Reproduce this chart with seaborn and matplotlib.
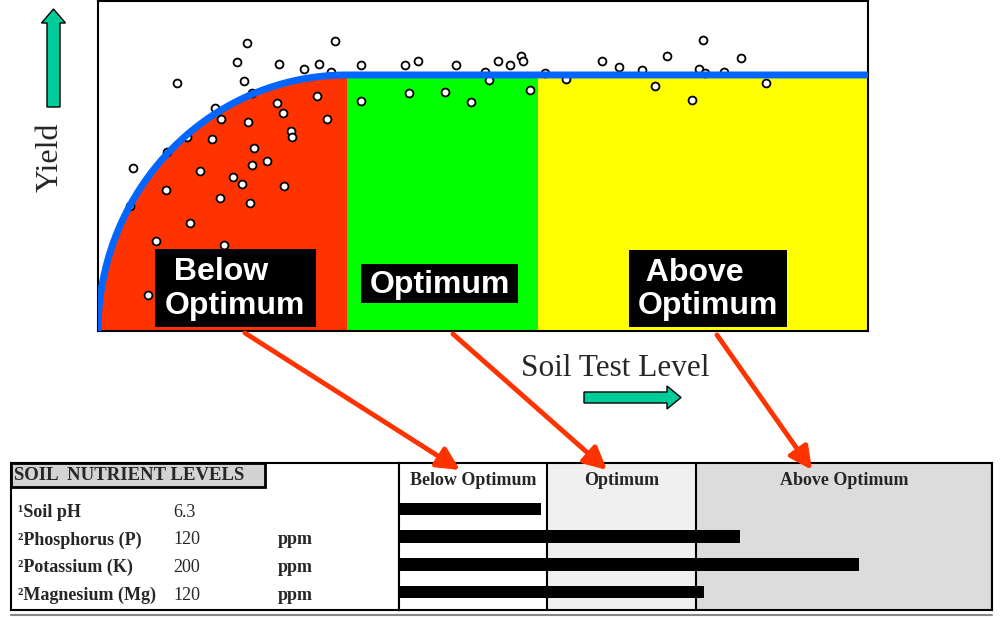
import numpy as np
import matplotlib.pyplot as plt
import matplotlib.patches as mpatches
import seaborn as sns

# Yield observations (soil test level 0-100, relative yield 0-100)
soil_test = [19.3, 30.8, 18.0, 23.5, 26.8, 28.7, 30.2, 34.2, 10.3, 19.0,
             20.0, 28.5, 23.3, 24.0, 15.2, 16.0, 19.5, 29.7, 34.2, 11.5,
             14.8, 25.0, 25.2, 9.0, 20.2, 22.0, 20.0, 4.5, 13.2, 17.5,
             18.7, 24.2, 8.8, 15.8, 19.8, 4.2, 12.0, 7.5, 16.3, 6.5,
             39.9, 41.6, 46.5, 52.0, 53.5, 54.9, 55.2, 50.2, 50.8, 58.1,
             60.8, 65.5, 67.7, 70.7, 73.9, 78.6, 78.1, 78.8, 81.3, 83.5,
             72.4, 77.1, 86.7, 40.4, 45.0, 48.5, 56.1]
yield_obs = [87.2, 88.0, 81.4, 80.9, 79.3, 81.0, 78.6, 80.7, 75.2, 75.7,
             72.2, 71.2, 69.1, 66.2, 67.5, 64.2, 63.2, 64.2, 69.6, 58.9,
             58.1, 60.5, 58.8, 54.3, 55.5, 51.5, 50.2, 49.5, 48.6, 46.8,
             44.5, 43.9, 42.8, 40.3, 38.7, 37.9, 32.6, 27.3, 26.1, 10.8,
             80.7, 81.7, 80.7, 81.7, 80.7, 83.4, 81.7, 78.4, 76.0, 78.2,
             76.5, 81.7, 80.1, 79.0, 83.4, 88.3, 79.4, 78.1, 78.4, 82.6,
             74.3, 69.9, 75.1, 72.0, 72.3, 69.5, 73.1]

# Response zones on the soil test scale
zone_labels = [' Below\nOptimum', 'Optimum', ' Above\nOptimum']
zone_edges = [0, 32.3, 57.1, 100]
zone_colors = ['#FF3300', '#00FF00', '#FFFF00']
plateau = 77.6

# Soil report table
nutrients = ['Soil pH', 'Phosphorus (P)', 'Potassium (K)', 'Magnesium (Mg)']
footnotes = ['\u00b9', '\u00b2', '\u00b2', '\u00b2']
results = ['6.3', '120', '200', '120']
units = ['', 'ppm', 'ppm', 'ppm']
bar_levels = [24, 57.5, 77.5, 51.5]
report_classes = ['Below Optimum', 'Optimum', 'Above Optimum']
report_edges = [0, 25, 50, 100]
report_fills = ['white', '#F0F0F0', '#DCDCDC']

sns.set_style('white')
plt.rcParams['font.family'] = ['Liberation Serif', 'DejaVu Serif']

fig = plt.figure(figsize=(10, 6.17), dpi=100)

# ---- response curve ----
ax = fig.add_axes([0.098, 0.4635, 0.770, 0.5348])
crit = zone_edges[1]
t = np.linspace(0, np.pi / 2, 200)
cx = crit * (1 - np.cos(t))
cy = plateau * np.sin(t)
ax.fill_between(cx, 0, cy, color=zone_colors[0], lw=0, zorder=1)
for i in (1, 2):
    ax.fill_between([zone_edges[i], zone_edges[i + 1]], 0, plateau,
                    color=zone_colors[i], lw=0, zorder=1)
sns.scatterplot(x=soil_test, y=yield_obs, ax=ax, s=32, color='white',
                edgecolor='black', linewidth=1.3, zorder=3, legend=False)
ax.plot(np.append(cx, zone_edges[-1]), np.append(cy, plateau),
        color='#0066FF', lw=5, zorder=4, solid_capstyle='butt')
ax.set_xlim(0, 100)
ax.set_ylim(0, 100)
ax.set_xticks([])
ax.set_yticks([])
for s in ax.spines.values():
    s.set_color('black')
    s.set_linewidth(1.5)

# ---- report table ----
ypos = [-1.66, 3.65]
axl = fig.add_axes([0.011, 0.01135, 0.388, 0.2382])
axb = fig.add_axes([0.399, 0.01135, 0.593, 0.2382])

for i in range(3):
    axb.axvspan(report_edges[i], report_edges[i + 1], color=report_fills[i], lw=0, zorder=0)
    axb.axvline(report_edges[i + 1], color='black', lw=1.5, zorder=3)
    axb.text((report_edges[i] + report_edges[i + 1]) / 2, -1.02, report_classes[i],
             ha='center', va='center', fontsize=13, fontweight='bold')
sns.barplot(x=bar_levels, y=nutrients, orient='h', color='black', width=0.45,
            ax=axb, saturation=1, zorder=2, linewidth=0)
axb.set_xlim(0, 100)
axb.set_ylim(ypos[1], ypos[0])
axb.set_xticks([])
axb.set_yticks([])
axb.set_xlabel('')
axb.set_ylabel('')

axl.set_xlim(0, 388)
axl.set_ylim(ypos[1], ypos[0])
axl.set_xticks([])
axl.set_yticks([])
axl.add_patch(mpatches.Rectangle((0, -1.66), 254, 0.87, facecolor='#D3D3D3',
                                 edgecolor='black', lw=2, zorder=1))
axl.text(3, -1.21, 'SOIL  NUTRIENT LEVELS', ha='left', va='center',
         fontsize=13.5, fontweight='bold', zorder=2)
for i, name in enumerate(nutrients):
    axl.text(7, i + 0.12, footnotes[i] + name, ha='left', va='center', fontsize=13, fontweight='bold')
    axl.text(162, i + 0.12, results[i], ha='left', va='center', fontsize=13)
    axl.text(267, i + 0.12, units[i], ha='left', va='center', fontsize=13, fontweight='bold')

for a in (axl, axb):
    for s in a.spines.values():
        s.set_color('black')
        s.set_linewidth(1.5)

# ---- overlay: labels, arrows, boxes (pixel coordinates) ----
ov = fig.add_axes([0, 0, 1, 1], zorder=10)
ov.set_xlim(0, 1000)
ov.set_ylim(617, 0)
ov.axis('off')
ov.patch.set_alpha(0)

boxes = [(155, 249, 161, 78, 165, 'left'), (361, 264, 157, 39, 439.5, 'center'),
         (629, 250, 158, 77, 638, 'left')]
for (bx, by, bw, bh, tx, ha), lab in zip(boxes, zone_labels):
    ov.add_patch(mpatches.Rectangle((bx, by), bw, bh, facecolor='black', lw=0))
    ov.text(tx, by + bh / 2 + 1, lab, ha=ha, va='center', multialignment='left',
            color='white', fontsize=23, fontweight='bold', family='Liberation Sans',
            linespacing=1.17)

ov.text(50, 157, 'Yield', rotation=90, ha='center', va='center', fontsize=23)
ov.text(615, 369, 'Soil Test Level', ha='center', va='center', fontsize=22.5)

ov.add_patch(mpatches.FancyArrow(53.5, 107, 0, -98, width=13, head_width=24,
                                 head_length=14, length_includes_head=True,
                                 facecolor='#00CC99', edgecolor='black', lw=1))
ov.add_patch(mpatches.FancyArrow(584, 397.5, 97, 0, width=11, head_width=23,
                                 head_length=14, length_includes_head=True,
                                 facecolor='#00CC99', edgecolor='black', lw=1))

for start, end in [((245, 333), (460, 470)), ((453, 334), (607, 470)), ((717, 335), (812, 470))]:
    ov.annotate('', xy=end, xytext=start,
                arrowprops=dict(arrowstyle='-|>,head_length=0.8,head_width=0.4',
                                color='#FF3300', lw=3.5, mutation_scale=17,
                                shrinkA=0, shrinkB=0))

ov.plot([11, 992], [615, 615], color='#888888', lw=1.5)

fig.savefig('out.png', dpi=100)
